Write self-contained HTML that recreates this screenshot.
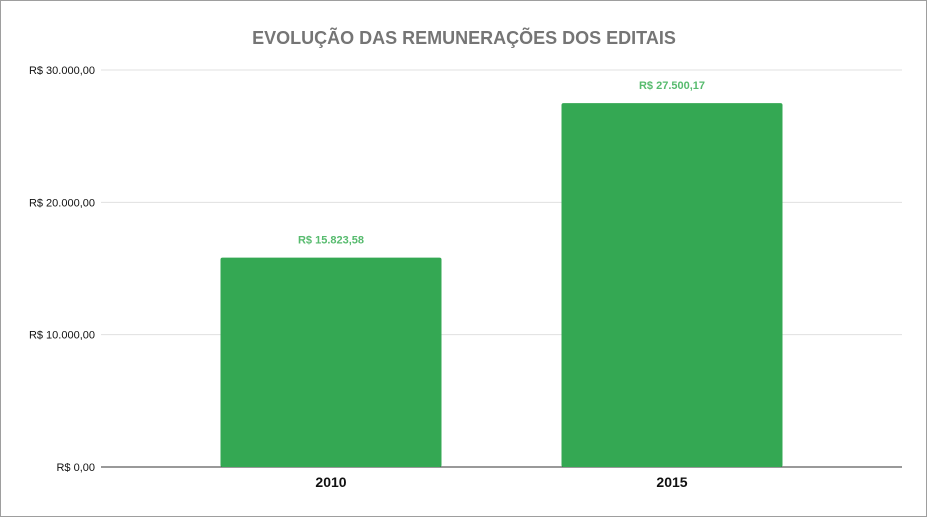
<!DOCTYPE html>
<html><head><meta charset="utf-8"><style>
html,body{margin:0;padding:0;background:#fff}
svg{display:block;font-family:"Liberation Sans",Arial,sans-serif}
</style></head><body>
<svg id="chart" width="927" height="517">
<rect x="0.5" y="0.5" width="926" height="516" fill="#fff" stroke="#9e9e9e"/>
<text x="464" y="44" text-anchor="middle" font-size="18" font-weight="bold" fill="#757575">EVOLUÇÃO DAS REMUNERAÇÕES DOS EDITAIS</text>
<g id="grid"></g><g id="bars"></g><g id="xlabels"></g>
</svg>
<script>
const categories = ["2010","2015"];
const values = [15823.58, 27500.17];
const valueLabels = ["R$ 15.823,58","R$ 27.500,17"];
const ticks = [0,10000,20000,30000];
const tickLabels = ["R$ 0,00","R$ 10.000,00","R$ 20.000,00","R$ 30.000,00"];
const NS="http://www.w3.org/2000/svg";
const y0=467,y1=70,vmax=30000,left=101,right=902;
const bandStart=160.5,bandW=341;
function y(v){return y0-(v/vmax)*(y0-y1);}
function x(i){return bandStart+bandW*(i+0.5);}
const bw=221;
function mk(t,a,p){const e=document.createElementNS(NS,t);for(const k in a)e.setAttribute(k,a[k]);p.appendChild(e);return e;}
const grid=document.getElementById('grid'),bars=document.getElementById('bars'),xl=document.getElementById('xlabels');
ticks.forEach((t,i)=>{
 const l=mk('line',{x1:left,x2:right,y1:y(t),y2:y(t),stroke:i===0?'#333':'#e0e0e0','stroke-width':1},grid);
 
 
 const tx=mk('text',{x:95,y:y(t)+4,'text-anchor':'end','font-size':11,fill:'#111'},grid);
 tx.textContent=tickLabels[i];
 
 
});
values.forEach((v,i)=>{
 const r=mk('rect',{x:x(i)-bw/2,y:y(v),width:bw,height:y0-y(v),fill:'#34a853',rx:2},bars);
 
 
 const t=mk('text',{x:x(i),y:y(v)-14,'text-anchor':'middle','font-size':11,'font-weight':'bold',fill:'#57bb6e'},bars);
 t.textContent=valueLabels[i];
 
 
 const c=mk('text',{x:x(i),y:487,'text-anchor':'middle','font-size':14,'font-weight':'bold',fill:'#111'},xl);
 c.textContent=categories[i];
 
 
});
</script>
</body></html>
